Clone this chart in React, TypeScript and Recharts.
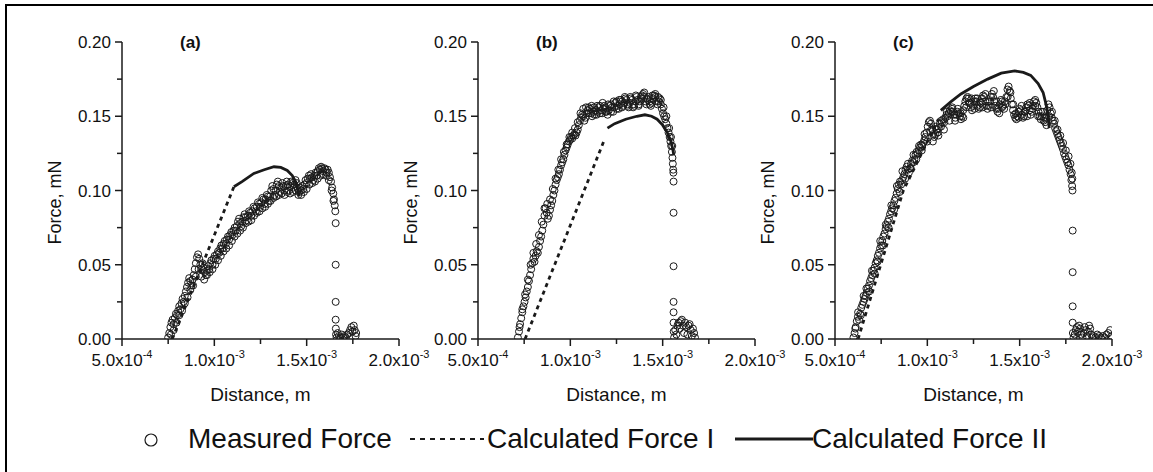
import { ScatterChart, Scatter, XAxis, YAxis } from "recharts";

const FONT = '"Liberation Sans", Arial, sans-serif';
const INK = "#1a1a1a";

// distance in mm (converted to m below), force in mN
const measuredA: [number, number][] = [
  [0.75, 0.001], [0.756, 0.004], [0.762, 0.008], [0.768, 0.011], [0.774, 0.013], [0.78, 0.01],
  [0.786, 0.014], [0.792, 0.017], [0.798, 0.016], [0.804, 0.019], [0.81, 0.022], [0.816, 0.02],
  [0.822, 0.024], [0.828, 0.027], [0.834, 0.025], [0.84, 0.029], [0.846, 0.032], [0.852, 0.035],
  [0.858, 0.038], [0.864, 0.041], [0.87, 0.039], [0.876, 0.036], [0.882, 0.04], [0.888, 0.043],
  [0.894, 0.047], [0.9, 0.051], [0.906, 0.055], [0.912, 0.057], [0.918, 0.054], [0.924, 0.05],
  [0.93, 0.047], [0.936, 0.051], [0.942, 0.048], [0.948, 0.045], [0.954, 0.043], [0.96, 0.046],
  [0.966, 0.049], [0.972, 0.047], [0.978, 0.051], [0.984, 0.053], [0.99, 0.05], [0.996, 0.054],
  [1.002, 0.056], [1.008, 0.054], [1.014, 0.057], [1.02, 0.059], [1.026, 0.058], [1.032, 0.061],
  [1.038, 0.063], [1.044, 0.061], [1.05, 0.064], [1.056, 0.066], [1.062, 0.064], [1.068, 0.067],
  [1.074, 0.069], [1.08, 0.067], [1.086, 0.07], [1.092, 0.072], [1.098, 0.07], [1.104, 0.073],
  [1.11, 0.075], [1.116, 0.073], [1.122, 0.076], [1.128, 0.079], [1.134, 0.081], [1.14, 0.078],
  [1.146, 0.076], [1.152, 0.079], [1.158, 0.082], [1.164, 0.084], [1.17, 0.082], [1.176, 0.08],
  [1.182, 0.083], [1.188, 0.086], [1.194, 0.085], [1.2, 0.083], [1.206, 0.086], [1.212, 0.089],
  [1.218, 0.088], [1.224, 0.086], [1.23, 0.089], [1.236, 0.092], [1.242, 0.091], [1.248, 0.089],
  [1.254, 0.092], [1.26, 0.095], [1.266, 0.094], [1.272, 0.091], [1.278, 0.094], [1.284, 0.097],
  [1.29, 0.096], [1.296, 0.093], [1.302, 0.096], [1.308, 0.1], [1.314, 0.103], [1.32, 0.101],
  [1.326, 0.097], [1.332, 0.1], [1.338, 0.104], [1.344, 0.106], [1.35, 0.103], [1.356, 0.099],
  [1.362, 0.102], [1.368, 0.105], [1.374, 0.103], [1.38, 0.1], [1.386, 0.103], [1.392, 0.106],
  [1.398, 0.104], [1.404, 0.1], [1.41, 0.103], [1.416, 0.106], [1.422, 0.105], [1.428, 0.102],
  [1.434, 0.104], [1.44, 0.107], [1.446, 0.105], [1.452, 0.101], [1.458, 0.099], [1.464, 0.102],
  [1.47, 0.1], [1.476, 0.103], [1.482, 0.101], [1.488, 0.104], [1.494, 0.107], [1.5, 0.105],
  [1.506, 0.108], [1.512, 0.11], [1.518, 0.108], [1.524, 0.111], [1.53, 0.109], [1.536, 0.107],
  [1.542, 0.11], [1.548, 0.112], [1.554, 0.11], [1.56, 0.113], [1.566, 0.115], [1.572, 0.114],
  [1.578, 0.116], [1.584, 0.115], [1.59, 0.113], [1.596, 0.115], [1.602, 0.114], [1.608, 0.112],
  [1.614, 0.114], [1.62, 0.112], [1.626, 0.109], [1.632, 0.106], [1.638, 0.102], [1.644, 0.098],
  [1.648, 0.094], [1.652, 0.09], [1.655, 0.086], [1.657, 0.078], [1.657, 0.05], [1.657, 0.025],
  [1.657, 0.013], [1.658, 0.007], [1.659, 0.003], [1.662, 0.001], [1.668, 0.004], [1.675, 0.002],
  [1.682, 0.001], [1.69, 0.003], [1.698, 0.001], [1.705, 0.002], [1.712, 0.001], [1.72, 0.003],
  [1.728, 0.004], [1.735, 0.006], [1.742, 0.008], [1.748, 0.005], [1.755, 0.009], [1.76, 0.006],
  [1.765, 0.002], [1.768, 0.004],
];
// other edge of the measured band
const measuredA2: [number, number][] = [
  [0.765, 0.003], [0.78, 0.006], [0.795, 0.011], [0.81, 0.016], [0.825, 0.019], [0.84, 0.024],
  [0.855, 0.028], [0.87, 0.033], [0.885, 0.036], [0.9, 0.042], [0.915, 0.047], [0.93, 0.042],
  [0.945, 0.04], [0.96, 0.043], [0.975, 0.045], [0.99, 0.047], [1.005, 0.05], [1.02, 0.053],
  [1.035, 0.056], [1.05, 0.059], [1.065, 0.061], [1.08, 0.063], [1.095, 0.066], [1.11, 0.069],
  [1.125, 0.071], [1.14, 0.073], [1.155, 0.075], [1.17, 0.078], [1.185, 0.079], [1.2, 0.08],
  [1.215, 0.083], [1.23, 0.085], [1.245, 0.086], [1.26, 0.088], [1.275, 0.089], [1.29, 0.091],
  [1.305, 0.093], [1.32, 0.095], [1.335, 0.096], [1.35, 0.097], [1.365, 0.098], [1.38, 0.097],
  [1.395, 0.099], [1.41, 0.098], [1.425, 0.099], [1.44, 0.1], [1.455, 0.097], [1.47, 0.097],
  [1.485, 0.099], [1.5, 0.101], [1.515, 0.104], [1.53, 0.105], [1.545, 0.106], [1.56, 0.108],
  [1.575, 0.11], [1.59, 0.111], [1.605, 0.11], [1.62, 0.107], [1.635, 0.1], [1.645, 0.093],
];
const calcIA: [number, number][] = [[0.772, 0], [1.106, 0.1025]];
const calcIIA: [number, number][] = [
  [1.106, 0.1025], [1.15, 0.106], [1.214, 0.1115], [1.27, 0.114], [1.323, 0.116], [1.36, 0.1155],
  [1.395, 0.1135], [1.422, 0.11], [1.44, 0.106], [1.452, 0.101], [1.459, 0.096],
];

const measuredB: [number, number][] = [
  [0.716, 0.001], [0.722, 0.005], [0.728, 0.01], [0.734, 0.014], [0.74, 0.018], [0.746, 0.022],
  [0.752, 0.025], [0.758, 0.028], [0.764, 0.032], [0.77, 0.035], [0.776, 0.039], [0.782, 0.043],
  [0.788, 0.047], [0.794, 0.051], [0.8, 0.054], [0.806, 0.052], [0.812, 0.056], [0.818, 0.059],
  [0.824, 0.058], [0.83, 0.062], [0.836, 0.066], [0.842, 0.069], [0.848, 0.073], [0.854, 0.077],
  [0.86, 0.083], [0.866, 0.088], [0.872, 0.085], [0.878, 0.081], [0.884, 0.083], [0.89, 0.087],
  [0.896, 0.09], [0.902, 0.093], [0.908, 0.097], [0.914, 0.1], [0.92, 0.104], [0.926, 0.107],
  [0.932, 0.109], [0.938, 0.111], [0.944, 0.114], [0.95, 0.117], [0.956, 0.119], [0.962, 0.121],
  [0.968, 0.124], [0.974, 0.127], [0.98, 0.129], [0.986, 0.131], [0.992, 0.133], [0.998, 0.134],
  [1.004, 0.136], [1.01, 0.135], [1.016, 0.137], [1.022, 0.138], [1.028, 0.137], [1.034, 0.139],
  [1.04, 0.141], [1.046, 0.144], [1.052, 0.147], [1.058, 0.149], [1.064, 0.151], [1.07, 0.15],
  [1.076, 0.147], [1.082, 0.149], [1.088, 0.152], [1.094, 0.154], [1.1, 0.156], [1.106, 0.155],
  [1.112, 0.152], [1.118, 0.15], [1.124, 0.153], [1.13, 0.156], [1.136, 0.154], [1.142, 0.151],
  [1.148, 0.153], [1.154, 0.156], [1.16, 0.157], [1.166, 0.154], [1.172, 0.152], [1.178, 0.155],
  [1.184, 0.157], [1.19, 0.156], [1.196, 0.153], [1.202, 0.151], [1.208, 0.154], [1.214, 0.157],
  [1.22, 0.158], [1.226, 0.156], [1.232, 0.153], [1.238, 0.156], [1.244, 0.159], [1.25, 0.16],
  [1.256, 0.157], [1.262, 0.155], [1.268, 0.158], [1.274, 0.161], [1.28, 0.16], [1.286, 0.157],
  [1.292, 0.159], [1.298, 0.162], [1.304, 0.161], [1.31, 0.158], [1.316, 0.156], [1.322, 0.159],
  [1.328, 0.162], [1.334, 0.161], [1.34, 0.158], [1.346, 0.157], [1.352, 0.16], [1.358, 0.163],
  [1.364, 0.161], [1.37, 0.158], [1.376, 0.16], [1.382, 0.163], [1.388, 0.164], [1.394, 0.165],
  [1.4, 0.163], [1.406, 0.16], [1.412, 0.158], [1.418, 0.161], [1.424, 0.163], [1.43, 0.16],
  [1.436, 0.157], [1.442, 0.159], [1.448, 0.162], [1.454, 0.164], [1.46, 0.163], [1.466, 0.16],
  [1.472, 0.158], [1.478, 0.16], [1.484, 0.162], [1.49, 0.158], [1.496, 0.155], [1.502, 0.152],
  [1.508, 0.15], [1.514, 0.148], [1.52, 0.145], [1.526, 0.142], [1.532, 0.139], [1.538, 0.136],
  [1.542, 0.133], [1.546, 0.13], [1.55, 0.126], [1.553, 0.122], [1.555, 0.118], [1.557, 0.114],
  [1.558, 0.112], [1.559, 0.106], [1.559, 0.085], [1.559, 0.049], [1.559, 0.025], [1.559, 0.018],
  [1.559, 0.011], [1.56, 0.005], [1.562, 0.001], [1.568, 0.006], [1.574, 0.003], [1.58, 0.009],
  [1.586, 0.011], [1.592, 0.007], [1.598, 0.012], [1.604, 0.013], [1.61, 0.009], [1.616, 0.004],
  [1.622, 0.011], [1.628, 0.008], [1.634, 0.003], [1.64, 0.009], [1.646, 0.01], [1.652, 0.006],
  [1.658, 0.002], [1.664, 0.007], [1.67, 0.004], [1.675, 0.001],
];
const measuredB2: [number, number][] = [
  [0.725, 0.008], [0.74, 0.02], [0.755, 0.03], [0.77, 0.04], [0.785, 0.05], [0.8, 0.058],
  [0.815, 0.064], [0.83, 0.07], [0.845, 0.079], [0.86, 0.088], [0.875, 0.091], [0.89, 0.094],
  [0.905, 0.101], [0.92, 0.108], [0.935, 0.114], [0.95, 0.121], [0.965, 0.126], [0.98, 0.131],
  [0.995, 0.136], [1.01, 0.139], [1.025, 0.142], [1.04, 0.146], [1.055, 0.152], [1.07, 0.155],
  [1.085, 0.156], [1.1, 0.152], [1.115, 0.157], [1.13, 0.151], [1.145, 0.157], [1.16, 0.152],
  [1.175, 0.159], [1.19, 0.153], [1.205, 0.158], [1.22, 0.153], [1.235, 0.16], [1.25, 0.155],
  [1.265, 0.161], [1.28, 0.156], [1.295, 0.163], [1.31, 0.157], [1.325, 0.163], [1.34, 0.156],
  [1.355, 0.164], [1.37, 0.157], [1.385, 0.162], [1.4, 0.166], [1.415, 0.162], [1.43, 0.158],
  [1.445, 0.164], [1.46, 0.165], [1.475, 0.163], [1.49, 0.161], [1.505, 0.156], [1.52, 0.15],
  [1.535, 0.142], [1.545, 0.136], [1.552, 0.13],
];
const calcIB: [number, number][] = [[0.755, 0], [1.187, 0.135]];
const calcIIB: [number, number][] = [
  [1.201, 0.142], [1.24, 0.145], [1.3, 0.148], [1.36, 0.15], [1.404, 0.151], [1.44, 0.15],
  [1.47, 0.148], [1.5, 0.144], [1.525, 0.139], [1.545, 0.133], [1.556, 0.127], [1.56, 0.124],
];

const measuredC: [number, number][] = [
  [0.6, 0.001], [0.606, 0.004], [0.612, 0.008], [0.618, 0.012], [0.624, 0.015], [0.63, 0.013],
  [0.636, 0.017], [0.642, 0.021], [0.648, 0.023], [0.654, 0.025], [0.66, 0.027], [0.666, 0.029],
  [0.672, 0.031], [0.678, 0.034], [0.684, 0.036], [0.69, 0.039], [0.696, 0.041], [0.702, 0.043],
  [0.708, 0.046], [0.714, 0.048], [0.72, 0.051], [0.726, 0.053], [0.732, 0.056], [0.738, 0.058],
  [0.744, 0.061], [0.75, 0.063], [0.756, 0.066], [0.762, 0.069], [0.768, 0.071], [0.774, 0.074],
  [0.78, 0.076], [0.786, 0.079], [0.792, 0.081], [0.798, 0.084], [0.804, 0.086], [0.81, 0.088],
  [0.816, 0.09], [0.822, 0.093], [0.828, 0.095], [0.834, 0.098], [0.84, 0.101], [0.846, 0.104],
  [0.852, 0.106], [0.858, 0.104], [0.864, 0.107], [0.87, 0.109], [0.876, 0.111], [0.882, 0.114],
  [0.888, 0.116], [0.894, 0.114], [0.9, 0.112], [0.906, 0.115], [0.912, 0.118], [0.918, 0.12],
  [0.924, 0.119], [0.93, 0.121], [0.936, 0.124], [0.942, 0.126], [0.948, 0.125], [0.954, 0.127],
  [0.96, 0.129], [0.966, 0.131], [0.972, 0.13], [0.978, 0.132], [0.984, 0.134], [0.99, 0.136],
  [0.996, 0.139], [1.002, 0.143], [1.008, 0.146], [1.014, 0.147], [1.02, 0.145], [1.026, 0.141],
  [1.032, 0.138], [1.038, 0.136], [1.044, 0.138], [1.05, 0.141], [1.056, 0.139], [1.062, 0.142],
  [1.068, 0.145], [1.074, 0.143], [1.08, 0.146], [1.086, 0.148], [1.092, 0.146], [1.098, 0.149],
  [1.104, 0.151], [1.11, 0.15], [1.116, 0.152], [1.122, 0.154], [1.128, 0.153], [1.134, 0.155],
  [1.14, 0.153], [1.146, 0.151], [1.152, 0.149], [1.158, 0.151], [1.164, 0.153], [1.17, 0.152],
  [1.176, 0.15], [1.182, 0.148], [1.188, 0.15], [1.194, 0.154], [1.2, 0.157], [1.206, 0.16],
  [1.212, 0.162], [1.218, 0.163], [1.224, 0.162], [1.23, 0.159], [1.236, 0.156], [1.242, 0.154],
  [1.248, 0.157], [1.254, 0.16], [1.26, 0.162], [1.266, 0.16], [1.272, 0.157], [1.278, 0.155],
  [1.284, 0.156], [1.29, 0.159], [1.296, 0.162], [1.302, 0.164], [1.308, 0.163], [1.314, 0.16],
  [1.32, 0.157], [1.326, 0.155], [1.332, 0.157], [1.338, 0.16], [1.344, 0.163], [1.35, 0.165],
  [1.356, 0.163], [1.362, 0.16], [1.368, 0.157], [1.374, 0.155], [1.38, 0.153], [1.386, 0.155],
  [1.392, 0.158], [1.398, 0.161], [1.404, 0.16], [1.41, 0.157], [1.416, 0.155], [1.422, 0.158],
  [1.428, 0.163], [1.434, 0.168], [1.44, 0.17], [1.446, 0.167], [1.452, 0.162], [1.458, 0.158],
  [1.464, 0.154], [1.47, 0.151], [1.476, 0.149], [1.482, 0.148], [1.488, 0.15], [1.494, 0.153],
  [1.5, 0.155], [1.506, 0.154], [1.512, 0.151], [1.518, 0.149], [1.524, 0.15], [1.53, 0.153],
  [1.536, 0.156], [1.542, 0.158], [1.548, 0.157], [1.554, 0.154], [1.56, 0.151], [1.566, 0.153],
  [1.572, 0.157], [1.578, 0.16], [1.584, 0.161], [1.59, 0.159], [1.596, 0.156], [1.602, 0.153],
  [1.608, 0.15], [1.614, 0.148], [1.62, 0.15], [1.626, 0.153], [1.632, 0.149], [1.638, 0.146],
  [1.644, 0.149], [1.65, 0.154], [1.656, 0.158], [1.662, 0.156], [1.668, 0.152], [1.674, 0.149],
  [1.68, 0.147], [1.686, 0.145], [1.692, 0.142], [1.698, 0.14], [1.704, 0.138], [1.71, 0.136],
  [1.716, 0.134], [1.722, 0.132], [1.728, 0.13], [1.734, 0.128], [1.74, 0.125], [1.746, 0.123],
  [1.752, 0.121], [1.758, 0.119], [1.764, 0.117], [1.77, 0.114], [1.776, 0.111], [1.78, 0.107],
  [1.784, 0.103], [1.786, 0.1], [1.787, 0.073], [1.787, 0.045], [1.787, 0.022], [1.787, 0.011],
  [1.788, 0.004], [1.792, 0.001], [1.798, 0.003], [1.804, 0.006], [1.81, 0.008], [1.816, 0.005],
  [1.822, 0.009], [1.828, 0.007], [1.834, 0.003], [1.84, 0.001], [1.846, 0.004], [1.852, 0.008],
  [1.858, 0.006], [1.864, 0.002], [1.87, 0.005], [1.876, 0.009], [1.882, 0.007], [1.888, 0.003],
  [1.894, 0.001], [1.9, 0.002], [1.91, 0.001], [1.92, 0.003], [1.93, 0.002], [1.94, 0.001],
  [1.95, 0.002], [1.96, 0.001], [1.97, 0.003], [1.98, 0.004], [1.99, 0.006], [1.998, 0.002],
];
const measuredC2: [number, number][] = [
  [0.61, 0.007], [0.625, 0.018], [0.64, 0.016], [0.655, 0.029], [0.67, 0.034], [0.685, 0.032],
  [0.7, 0.046], [0.715, 0.044], [0.73, 0.052], [0.745, 0.066], [0.76, 0.063], [0.775, 0.077],
  [0.79, 0.075], [0.805, 0.09], [0.82, 0.087], [0.835, 0.103], [0.85, 0.099], [0.865, 0.113],
  [0.88, 0.108], [0.895, 0.118], [0.91, 0.115], [0.925, 0.124], [0.94, 0.121], [0.955, 0.13],
  [0.97, 0.127], [0.985, 0.138], [1.0, 0.133], [1.015, 0.14], [1.03, 0.133], [1.045, 0.143],
  [1.06, 0.137], [1.075, 0.147], [1.09, 0.141], [1.105, 0.153], [1.12, 0.147], [1.135, 0.156],
  [1.15, 0.147], [1.165, 0.155], [1.18, 0.152], [1.195, 0.149], [1.21, 0.156], [1.225, 0.159],
  [1.24, 0.162], [1.255, 0.155], [1.27, 0.162], [1.285, 0.16], [1.3, 0.156], [1.315, 0.165],
  [1.33, 0.16], [1.345, 0.156], [1.36, 0.167], [1.375, 0.16], [1.39, 0.152], [1.405, 0.156],
  [1.42, 0.16], [1.435, 0.163], [1.45, 0.166], [1.465, 0.158], [1.48, 0.152], [1.495, 0.149],
  [1.51, 0.157], [1.525, 0.153], [1.54, 0.15], [1.555, 0.159], [1.57, 0.155], [1.585, 0.157],
  [1.6, 0.15], [1.615, 0.153], [1.63, 0.147], [1.645, 0.144], [1.66, 0.15], [1.675, 0.153],
  [1.69, 0.147], [1.705, 0.141], [1.72, 0.137], [1.735, 0.132], [1.75, 0.127], [1.765, 0.123],
  [1.775, 0.118], [1.782, 0.112], [1.785, 0.108],
];
const calcIC: [number, number][] = [[0.625, 0], [0.87, 0.1], [1.06, 0.148]];
const calcIIC: [number, number][] = [
  [1.073, 0.154], [1.13, 0.16], [1.182, 0.165], [1.25, 0.17], [1.327, 0.175], [1.4, 0.179],
  [1.473, 0.1805], [1.52, 0.1795], [1.56, 0.1775], [1.6, 0.172], [1.627, 0.166], [1.645, 0.157],
  [1.655, 0.149], [1.66, 0.142],
];

const panelTitles = ["(a)", "(b)", "(c)"];
const xMajor = [5e-4, 1e-3, 1.5e-3, 2e-3];
const xMajorLabels = [["5.0", "-4"], ["1.0", "-3"], ["1.5", "-3"], ["2.0", "-3"]];
const xMinor = [7.5e-4, 1.25e-3, 1.75e-3];
const yMajor = [0, 0.05, 0.1, 0.15, 0.2];
const yMajorLabels = ["0.00", "0.05", "0.10", "0.15", "0.20"];
const yMinor = [0.025, 0.075, 0.125, 0.175];
const legendLabels = ["Measured Force", "Calculated Force I", "Calculated Force II"];

const toPoints = (rows: [number, number][]) => rows.map(([d, f]) => ({ x: d / 1000, y: f }));
const near = (a: number, b: number) => Math.abs(a - b) < 1e-9;

function XTick(props: any) {
  const { x, y, payload } = props;
  const i = xMajor.findIndex((v) => near(v, payload.value));
  if (i < 0) return <line x1={x} x2={x} y1={y} y2={y + 5} stroke={INK} strokeWidth={1.5} />;
  const [m, e] = xMajorLabels[i];
  return (
    <g>
      <line x1={x} x2={x} y1={y} y2={y + 7} stroke={INK} strokeWidth={1.5} />
      <text x={x} y={y + 27} textAnchor="middle" fontSize={17} fontFamily={FONT} fill="#111">
        {m}x10<tspan dy={-8} fontSize={11}>{e}</tspan>
      </text>
    </g>
  );
}

function YTick(props: any) {
  const { x, y, payload } = props;
  const i = yMajor.findIndex((v) => near(v, payload.value));
  if (i < 0) return <line x1={x - 5} x2={x} y1={y} y2={y} stroke={INK} strokeWidth={1.5} />;
  return (
    <g>
      <line x1={x - 7} x2={x} y1={y} y2={y} stroke={INK} strokeWidth={1.5} />
      <text x={x - 11} y={y + 6} textAnchor="end" fontSize={17} fontFamily={FONT} fill="#111">
        {yMajorLabels[i]}
      </text>
    </g>
  );
}

const Circle = (p: any) => (
  <circle cx={p.cx} cy={p.cy} r={3.5} fill="none" stroke={INK} strokeWidth={1} />
);
const Nothing = () => <g />;

const PLOT_W = 277;
const AXIS_W = 100;

function Panel({ index, measured, calcI, calcII, plotLeft }: any) {
  return (
    <div style={{ position: "absolute", left: plotLeft - AXIS_W, top: 0 }}>
      <ScatterChart
        width={AXIS_W + PLOT_W + 42}
        height={472}
        margin={{ top: 42, right: 42, bottom: 73, left: 0 }}
      >
        <XAxis
          type="number"
          dataKey="x"
          domain={[5e-4, 2e-3]}
          allowDataOverflow
          ticks={[...xMajor, ...xMinor].sort((a, b) => a - b)}
          interval={0}
          tick={<XTick />}
          tickLine={false}
          tickSize={0}
          tickMargin={0}
          height={60}
          axisLine={{ stroke: INK, strokeWidth: 1.5 }}
          label={{
            content: (lp: any) => {
              const vb = lp.viewBox || { x: AXIS_W, y: 339, width: PLOT_W };
              return (
                <text x={vb.x + vb.width / 2} y={vb.y + 62} textAnchor="middle" fontSize={19} fontFamily={FONT} fill="#111">
                  Distance, m
                </text>
              );
            },
          }}
        />
        <YAxis
          type="number"
          dataKey="y"
          domain={[0, 0.2]}
          allowDataOverflow
          ticks={[...yMajor, ...yMinor].sort((a, b) => a - b)}
          interval={0}
          tick={<YTick />}
          tickLine={false}
          tickSize={0}
          tickMargin={0}
          width={AXIS_W}
          axisLine={{ stroke: INK, strokeWidth: 1.5 }}
          label={{
            content: (lp: any) => {
              const vb = lp.viewBox || { x: 0, y: 42, width: AXIS_W, height: 297 };
              const cx = vb.x + vb.width - 67;
              const cy = vb.y + vb.height / 2 + 12;
              return (
                <text transform={`translate(${cx},${cy}) rotate(-90)`} textAnchor="middle" dy="0.35em" fontSize={18} fontFamily={FONT} fill="#111">
                  Force, mN
                </text>
              );
            },
          }}
        />
        <Scatter data={toPoints(measured)} shape={Circle} isAnimationActive={false} />
        <Scatter
          data={toPoints(calcI)}
          shape={Nothing}
          line={{ stroke: INK, strokeWidth: 2.8, strokeDasharray: "4 4" }}
          isAnimationActive={false}
        />
        <Scatter
          data={toPoints(calcII)}
          shape={Nothing}
          line={{ stroke: INK, strokeWidth: 2.8 }}
          isAnimationActive={false}
        />
      </ScatterChart>
      <div
        style={{
          position: "absolute",
          left: AXIS_W + 58,
          top: 33,
          fontFamily: FONT,
          fontWeight: "bold",
          fontSize: 17,
          color: "#111",
          lineHeight: "20px",
        }}
      >
        {panelTitles[index]}
      </div>
    </div>
  );
}

export default function App() {
  return (
    <div
      style={{
        position: "absolute",
        left: 0,
        top: 0,
        width: 1153,
        height: 472,
        overflow: "hidden",
        background: "#fff",
      }}
    >
      <div
        style={{
          position: "absolute",
          left: 5,
          top: 4,
          right: 0,
          bottom: 0,
          borderTop: "2px solid #000",
          borderLeft: "2px solid #000",
        }}
      />
      <Panel index={0} measured={[...measuredA, ...measuredA2]} calcI={calcIA} calcII={calcIIA} plotLeft={122} />
      <Panel index={1} measured={[...measuredB, ...measuredB2]} calcI={calcIB} calcII={calcIIB} plotLeft={478} />
      <Panel index={2} measured={[...measuredC, ...measuredC2]} calcI={calcIC} calcII={calcIIC} plotLeft={835} />
      <svg width={1153} height={472} style={{ position: "absolute", left: 0, top: 0, pointerEvents: "none" }}>
        <g fontFamily={FONT} fontSize={28} fill="#111">
          <circle cx={151} cy={440} r={6} fill="none" stroke={INK} strokeWidth={1.2} />
          <text x={188} y={448}>{legendLabels[0]}</text>
          <line x1={410} x2={484} y1={439} y2={439} stroke={INK} strokeWidth={2} strokeDasharray="5 5" />
          <text x={487} y={448}>{legendLabels[1]}</text>
          <line x1={735} x2={813} y1={439} y2={439} stroke={INK} strokeWidth={3} />
          <text x={812} y={448}>{legendLabels[2]}</text>
        </g>
      </svg>
    </div>
  );
}
